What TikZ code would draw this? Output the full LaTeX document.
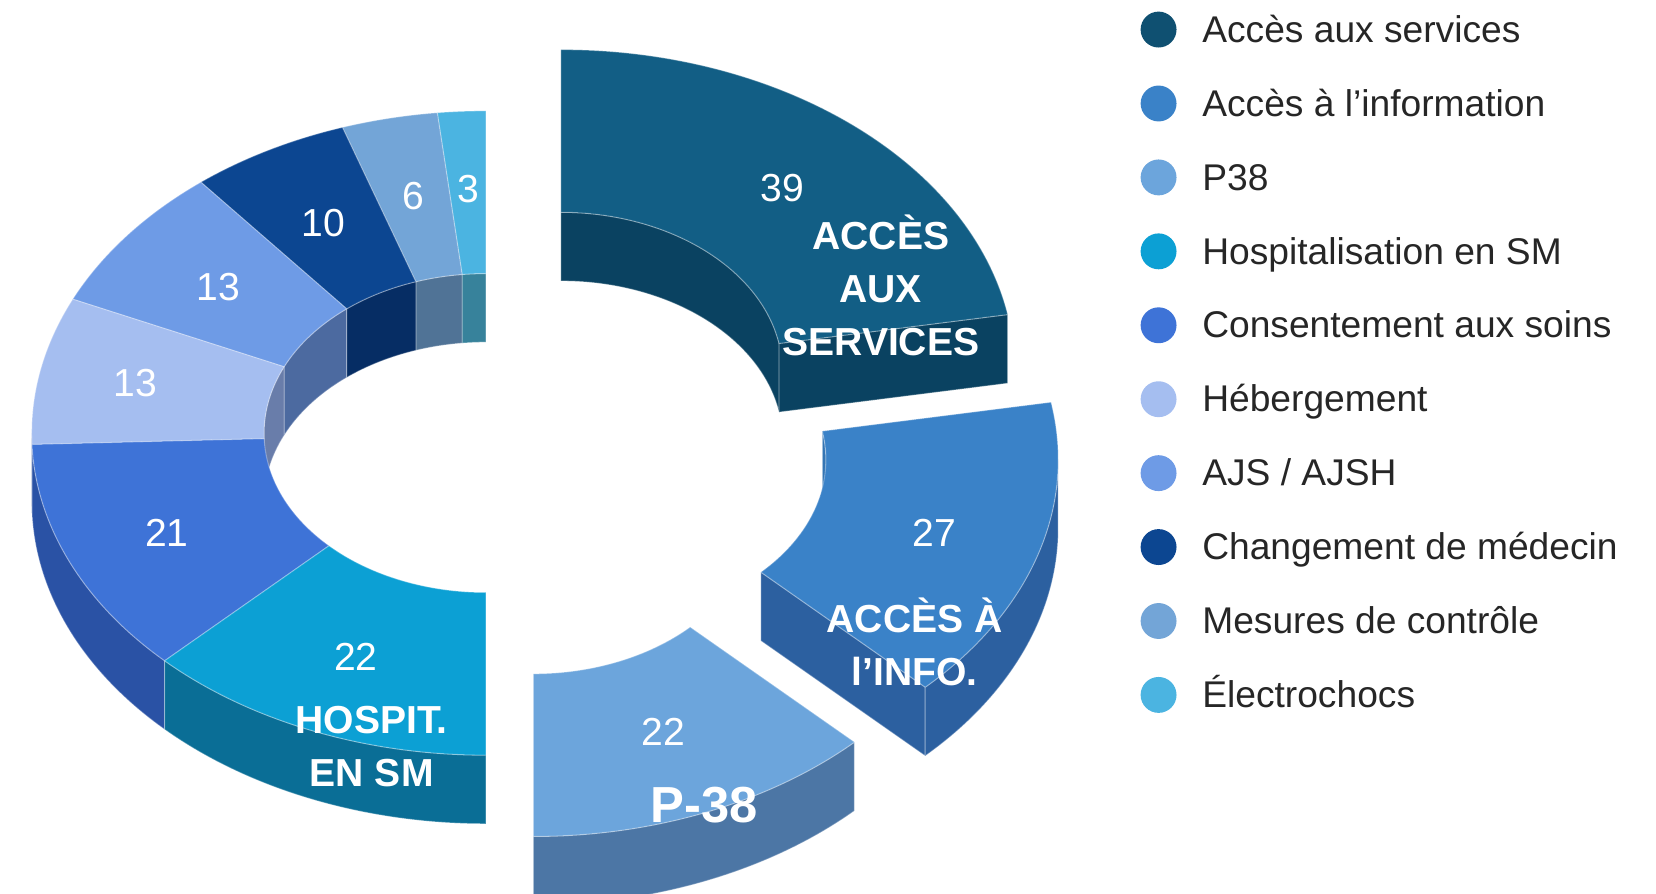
\documentclass[tikz,border=0pt]{standalone}
\usepackage{fontspec}
\setmainfont{Liberation Sans}
\usepackage{tikz}

\definecolor{servtop}{RGB}{18,94,133}
\definecolor{servside}{RGB}{10,66,97}
\definecolor{infotop}{RGB}{58,130,200}
\definecolor{infoside}{RGB}{44,96,160}
\definecolor{ptop}{RGB}{108,165,220}
\definecolor{pside}{RGB}{76,118,165}
\definecolor{hosptop}{RGB}{12,160,212}
\definecolor{hospside}{RGB}{10,110,150}
\definecolor{constop}{RGB}{62,115,215}
\definecolor{consside}{RGB}{42,82,165}
\definecolor{hebtop}{RGB}{165,190,240}
\definecolor{hebside}{RGB}{105,125,170}
\definecolor{ajstop}{RGB}{110,155,230}
\definecolor{ajsside}{RGB}{76,106,160}
\definecolor{chgtop}{RGB}{12,70,145}
\definecolor{chgside}{RGB}{6,45,100}
\definecolor{mestop}{RGB}{115,165,215}
\definecolor{messide}{RGB}{80,115,150}
\definecolor{eltop}{RGB}{75,180,225}
\definecolor{elside}{RGB}{55,130,155}

% top of a ring piece: centre, from, to, colour
\newcommand{\ringtop}[4]{%
  \filldraw[face, fill=#4] ([shift={(#1)}]#2:430 and 305)
    arc[start angle=#2, end angle=#3, x radius=430, y radius=305]
    -- ([shift={(#1)}]#3:210 and 151)
    arc[start angle=#3, end angle=#2, x radius=210, y radius=151] -- cycle;}
% curved wall: centre, from, to, x radius, y radius, colour
\newcommand{\ringwall}[6]{%
  \filldraw[face, fill=#6] ([shift={(#1)}]#2:#4 and #5)
    arc[start angle=#2, end angle=#3, x radius=#4, y radius=#5]
    -- ++(0,-65)
    arc[start angle=#3, end angle=#2, x radius=#4, y radius=#5] -- cycle;}
% flat cut: centre, angle, colour
\newcommand{\ringcut}[3]{%
  \filldraw[face, fill=#3] ([shift={(#1)}]#2:430 and 305)
    -- ([shift={(#1)}]#2:210 and 151)
    -- ([shift={(#1)},shift={(0,-65)}]#2:210 and 151)
    -- ([shift={(#1)},shift={(0,-65)}]#2:430 and 305) -- cycle;}

\begin{document}
\begin{tikzpicture}[x=0.5pt,y=0.5pt,
    face/.style={draw=white, draw opacity=0.3, line width=0.5pt},
    val/.style={text=white, font=\fontsize{18.5}{20}\selectfont},
    big/.style={text=white, align=center, font=\bfseries\fontsize{18.5}{25}\selectfont},
    dot/.style={circle, minimum size=17pt, inner sep=0pt},
    leg/.style={anchor=base west, inner sep=0pt, text=black!85, font=\fontsize{17.6}{20}\selectfont}]
\useasboundingbox (0,0) rectangle (1568,846);

\coordinate (c0) at (460,436);
\coordinate (c1) at (531,494);
\coordinate (c2) at (572,411);
\coordinate (c3) at (505,359);

% pulled-out pieces
\ringwall{c1}{10.227}{90}{210}{151}{servside}
\ringcut{c1}{10.227}{servside}
\ringtop{c1}{10.227}{90}{servtop}

\ringwall{c2}{0}{10.227}{210}{151}{infotop!90!black}
\ringcut{c2}{-45}{infoside}
\ringwall{c2}{-45}{0}{430}{305}{infoside}
\ringtop{c2}{-45}{10.227}{infotop}

\ringwall{c3}{-90}{-45}{430}{305}{pside}
\ringtop{c3}{-90}{-45}{ptop}

% the rest of the ring
\ringwall{c0}{90}{96.136}{210}{151}{elside}
\ringwall{c0}{96.136}{108.409}{210}{151}{messide}
\ringwall{c0}{108.409}{128.864}{210}{151}{chgside}
\ringwall{c0}{128.864}{155.455}{210}{151}{ajsside}
\ringwall{c0}{155.455}{180}{210}{151}{hebside}
\ringwall{c0}{180}{182.045}{430}{305}{hebside}
\ringwall{c0}{182.045}{225}{430}{305}{consside}
\ringwall{c0}{225}{270}{430}{305}{hospside}

\ringtop{c0}{90}{96.136}{eltop}
\ringtop{c0}{96.136}{108.409}{mestop}
\ringtop{c0}{108.409}{128.864}{chgtop}
\ringtop{c0}{128.864}{155.455}{ajstop}
\ringtop{c0}{155.455}{182.045}{hebtop}
\ringtop{c0}{182.045}{225}{constop}
\ringtop{c0}{225}{270}{hosptop}

\node[val] (v39) at (741,668) {39};
\node[big] (lserv) at (834,576) {ACCÈS\\AUX\\SERVICES};
\node[val] (v27) at (885,341) {27};
\node[big] (linfo) at (866,238) {ACCÈS À\\l’INFO.};
\node[val] (v22p) at (628,153) {22};
\node[text=white, font=\bfseries\fontsize{24}{26}\selectfont] (lp38) at (667,84) {P-38};
\node[val] (v22h) at (337,224) {22};
\node[big] (lhosp) at (352,139) {HOSPIT.\\EN SM};
\node[val] (v21) at (158,341) {21};
\node[val] (v13a) at (128,483) {13};
\node[val] (v13b) at (207,574) {13};
\node[val] (v10) at (306,635) {10};
\node[val] (v6) at (391,660) {6};
\node[val] (v3) at (443,667) {3};

% legend
\node[dot, fill=servtop!85!black] (d1) at (1097,818) {};
\node[leg] (t1) at (1138,806) {Accès aux services};
\node[dot, fill=infotop] (d2) at (1097,748) {};
\node[leg] (t2) at (1138,736) {Accès à l'information};
\node[dot, fill=ptop] (d3) at (1097,678) {};
\node[leg] (t3) at (1138,666) {P38};
\node[dot, fill=hosptop] (d4) at (1097,608) {};
\node[leg] (t4) at (1138,596) {Hospitalisation en SM};
\node[dot, fill=constop] (d5) at (1097,538) {};
\node[leg] (t5) at (1138,526) {Consentement aux soins};
\node[dot, fill=hebtop] (d6) at (1097,468) {};
\node[leg] (t6) at (1138,456) {Hébergement};
\node[dot, fill=ajstop] (d7) at (1097,398) {};
\node[leg] (t7) at (1138,386) {AJS / AJSH};
\node[dot, fill=chgtop] (d8) at (1097,328) {};
\node[leg] (t8) at (1138,316) {Changement de médecin};
\node[dot, fill=mestop] (d9) at (1097,258) {};
\node[leg] (t9) at (1138,246) {Mesures de contrôle};
\node[dot, fill=eltop] (d10) at (1097,188) {};
\node[leg] (t10) at (1138,176) {Électrochocs};
\end{tikzpicture}
\end{document}
